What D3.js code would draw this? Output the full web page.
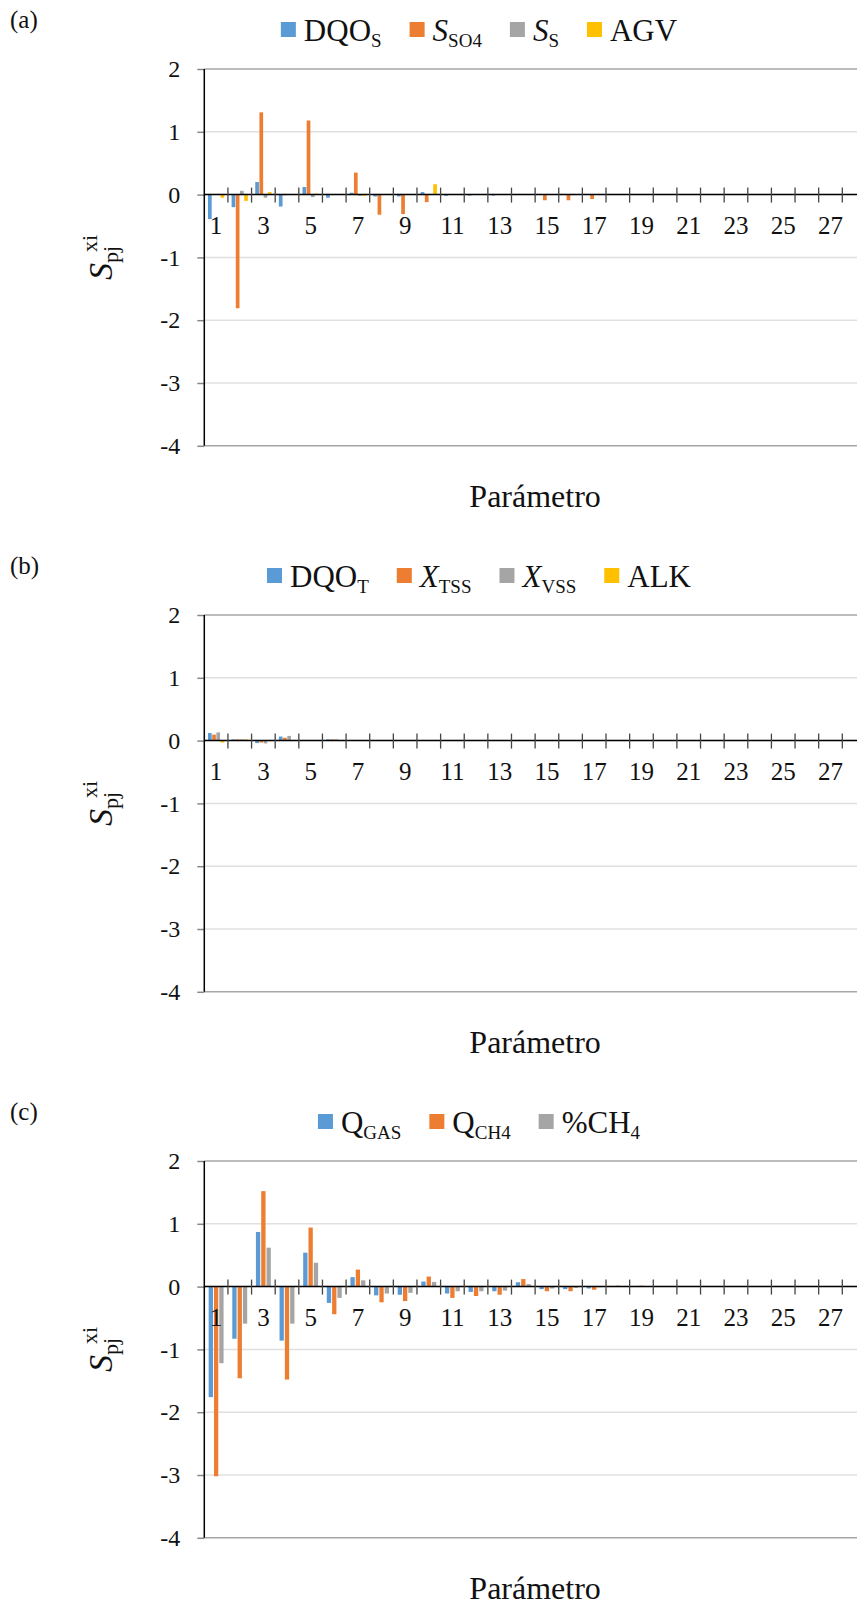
<!DOCTYPE html>
<html>
<head>
<meta charset="utf-8">
<script src="https://cdn.jsdelivr.net/npm/d3@7"></script>
<style>
  body { margin: 0; background: #fff; }
  svg { display: block; font-family: "Liberation Serif", "DejaVu Serif", serif; }
</style>
</head>
<body>
<script>
// categories 1..28 (the chart is cut at the right edge)
var categories = d3.range(1, 29);
var tickLabels = [1, 3, 5, 7, 9, 11, 13, 15, 17, 19, 21, 23, 25, 27];
var yTicks = [2, 1, 0, -1, -2, -3, -4];

// (a)
var dqoS = [-0.39, -0.20, 0.20, -0.19, 0.12, -0.05, 0.03, -0.03, -0.03, 0.04, -0.02, -0.015, -0.015, 0.01, 0, 0, 0, 0, 0, 0, 0, 0, 0, 0, 0, 0, 0, 0];
var sSO4 = [0.01, -1.81, 1.31, -0.01, 1.18, 0, 0.35, -0.32, -0.31, -0.12, 0, 0, 0, 0, -0.09, -0.09, -0.07, 0, 0, 0, 0, 0, 0, 0, 0, 0, 0, 0];
var sS   = [0, 0.06, -0.05, 0, -0.04, 0, -0.02, 0, 0, 0, 0, 0, 0, 0, 0, 0, 0, 0, 0, 0, 0, 0, 0, 0, 0, 0, 0, 0];
var agv  = [-0.05, -0.10, 0.04, 0, 0.015, 0, -0.02, 0.01, 0, 0.165, 0, 0, 0, 0, 0, 0, 0, 0, 0, 0, 0, 0, 0, 0, 0, 0, 0, 0];

// (b)
var dqoT = [0.12, 0.02, -0.04, 0.065, -0.005, 0.02, 0, 0, 0, -0.005, 0, 0, 0, 0, 0, 0, 0, 0, 0, 0, 0, 0, 0, 0, 0, 0, 0, 0];
var xTSS = [0.095, 0.02, -0.03, 0.045, -0.005, 0.02, 0, 0, 0, -0.005, 0, 0, 0, 0, 0, 0, 0, 0, 0, 0, 0, 0, 0, 0, 0, 0, 0, 0];
var xVSS = [0.13, 0.02, -0.045, 0.075, 0, 0.02, 0, 0, 0, 0, 0, 0, 0, 0, 0, 0, 0, 0, 0, 0, 0, 0, 0, 0, 0, 0, 0, 0];
var alk  = [-0.03, 0.02, -0.01, 0, -0.005, 0, 0, 0, 0, 0, 0, 0, 0, 0, 0, 0, 0, 0, 0, 0, 0, 0, 0, 0, 0, 0, 0, 0];

// (c)
var qGas = [-1.76, -0.83, 0.87, -0.86, 0.54, -0.26, 0.15, -0.14, -0.13, 0.08, -0.11, -0.085, -0.074, 0.07, -0.04, -0.04, -0.03, 0, 0, 0, 0, 0, 0, 0, 0, 0, 0, 0];
var qCH4 = [-3.02, -1.46, 1.52, -1.48, 0.94, -0.44, 0.27, -0.25, -0.23, 0.16, -0.18, -0.15, -0.13, 0.12, -0.074, -0.074, -0.05, 0.015, 0.015, 0, 0, 0, 0, 0, 0, 0, 0, 0];
var pCH4 = [-1.22, -0.59, 0.62, -0.59, 0.38, -0.18, 0.10, -0.11, -0.10, 0.074, -0.074, -0.074, -0.064, 0.04, -0.03, -0.02, -0.01, 0, 0, 0, 0, 0, 0, 0, 0, 0, 0, 0];

// legend names: [main text, subscript, italic?]
var namesA = [["DQO", "S", false], ["S", "SO4", true], ["S", "S", true], ["AGV", "", false]];
var namesB = [["DQO", "T", false], ["X", "TSS", true], ["X", "VSS", true], ["ALK", "", false]];
var namesC = [["Q", "GAS", false], ["Q", "CH4", false], ["%CH", "4", false]];

var colors4 = ["#5B9BD5", "#ED7D31", "#A5A5A5", "#FFC000"];

var width = 857, height = 1607;
var left = 204.3, catStep = 23.63, plotH = 376.8;

var svg = d3.select("body").append("svg")
    .attr("width", width)
    .attr("height", height);

function panel(top, tag, series, names, colors, po, pi) {
    var g = svg.append("g");

    var x0 = d3.scaleBand()
        .domain(categories)
        .range([left, left + catStep * categories.length])
        .padding(0);
    var x1 = d3.scaleBand()
        .domain(d3.range(series.length))
        .range([0, x0.bandwidth()])
        .paddingInner(pi)
        .paddingOuter(po);
    var y = d3.scaleLinear()
        .domain([-4, 2])
        .range([top + plotH, top]);

    // gridlines
    g.selectAll(".grid")
        .data(yTicks)
        .enter()
        .append("line")
        .attr("x1", left)
        .attr("x2", width)
        .attr("y1", function (d) { return y(d); })
        .attr("y2", function (d) { return y(d); })
        .attr("stroke", function (d) { return (d === 2 || d === -4) ? "#a6a6a6" : "#e0e0e0"; })
        .attr("stroke-width", 1.5);

    // y axis
    var yAxis = d3.axisLeft(y).tickValues(yTicks).tickSize(7).tickFormat(function (d) { return String(d); });
    var ya = g.append("g")
        .attr("transform", "translate(" + left + ",0)")
        .call(yAxis);
    ya.select(".domain").remove();
    ya.selectAll(".tick line").attr("stroke", "#888").attr("stroke-width", 1.5);
    ya.selectAll(".tick text")
        .attr("x", -24)
        .attr("fill", "#111")
        .style("font-size", "24px")
        .style("font-family", "Liberation Serif, serif");

    // bars
    series.forEach(function (vals, si) {
        g.selectAll(".bar" + si)
            .data(vals)
            .enter()
            .append("rect")
            .attr("x", function (d, i) { return x0(categories[i]) + x1(si); })
            .attr("width", x1.bandwidth())
            .attr("y", function (d) { return y(Math.max(0, d)); })
            .attr("height", function (d) { return Math.abs(y(d) - y(0)); })
            .attr("fill", colors[si]);
    });

    // y axis line
    g.append("line")
        .attr("x1", left).attr("x2", left)
        .attr("y1", top).attr("y2", top + plotH)
        .attr("stroke", "#000").attr("stroke-width", 1.5);

    // zero axis with category ticks
    g.append("line")
        .attr("x1", left).attr("x2", width)
        .attr("y1", y(0)).attr("y2", y(0))
        .attr("stroke", "#000").attr("stroke-width", 1.5);
    g.selectAll(".ctick")
        .data(categories.slice(1))
        .enter()
        .append("line")
        .attr("x1", function (d) { return x0(d); })
        .attr("x2", function (d) { return x0(d); })
        .attr("y1", y(0) - 7)
        .attr("y2", y(0) + 8)
        .attr("stroke", "#444")
        .attr("stroke-width", 1.3);

    g.selectAll(".xlab")
        .data(tickLabels)
        .enter()
        .append("text")
        .attr("x", function (d) { return x0(d) + x0.bandwidth() / 2; })
        .attr("y", y(0) + 39)
        .attr("text-anchor", "middle")
        .attr("font-size", "25px")
        .attr("fill", "#111")
        .text(function (d) { return d; });

    // axis titles
    g.append("text")
        .attr("x", left + catStep * categories.length / 2)
        .attr("y", top + 438)
        .attr("text-anchor", "middle")
        .attr("font-size", "32px")
        .attr("fill", "#111")
        .text("Parámetro");

    var yt = g.append("text")
        .attr("transform", "translate(112," + (top + plotH / 2) + ")rotate(-90)")
        .attr("text-anchor", "middle")
        .attr("fill", "#111");
    yt.append("tspan").attr("font-size", "34px").attr("font-style", "italic").text("S");
    yt.append("tspan").attr("font-size", "22px").attr("dy", 6).text("pj");
    yt.append("tspan").attr("font-size", "22px").attr("dx", -6).attr("dy", -21).text("xi");

    // panel tag
    g.append("text")
        .attr("x", 10)
        .attr("y", top - 41)
        .attr("font-size", "25px")
        .attr("fill", "#111")
        .text(tag);

    // legend
    var lg = g.append("g");
    var cy = top - 39;
    var cx = 0;
    names.forEach(function (n, i) {
        lg.append("rect")
            .attr("x", cx).attr("y", cy - 8)
            .attr("width", 15).attr("height", 15)
            .attr("fill", colors[i]);
        var t = lg.append("text")
            .attr("x", cx + 23)
            .attr("y", cy + 11)
            .attr("fill", "#111");
        t.append("tspan").attr("font-size", "31px")
            .attr("font-style", n[2] ? "italic" : "normal")
            .text(n[0]);
        if (n[1]) {
            t.append("tspan").attr("font-size", "19px").attr("dy", 6).text(n[1]);
        }
        cx += 23 + t.node().getComputedTextLength() + 28;
    });
    var lw = cx - 28;
    lg.attr("transform", "translate(" + (479 - lw / 2) + ",0)");
}

panel(69, "(a)", [dqoS, sSO4, sS, agv], namesA, colors4, 0.875, 0.12);
panel(615, "(b)", [dqoT, xTSS, xVSS, alk], namesB, colors4, 0.875, 0.12);
panel(1161, "(c)", [qGas, qCH4, pCH4], namesC, colors4, 0.82, 0.19);
</script>
</body>
</html>
